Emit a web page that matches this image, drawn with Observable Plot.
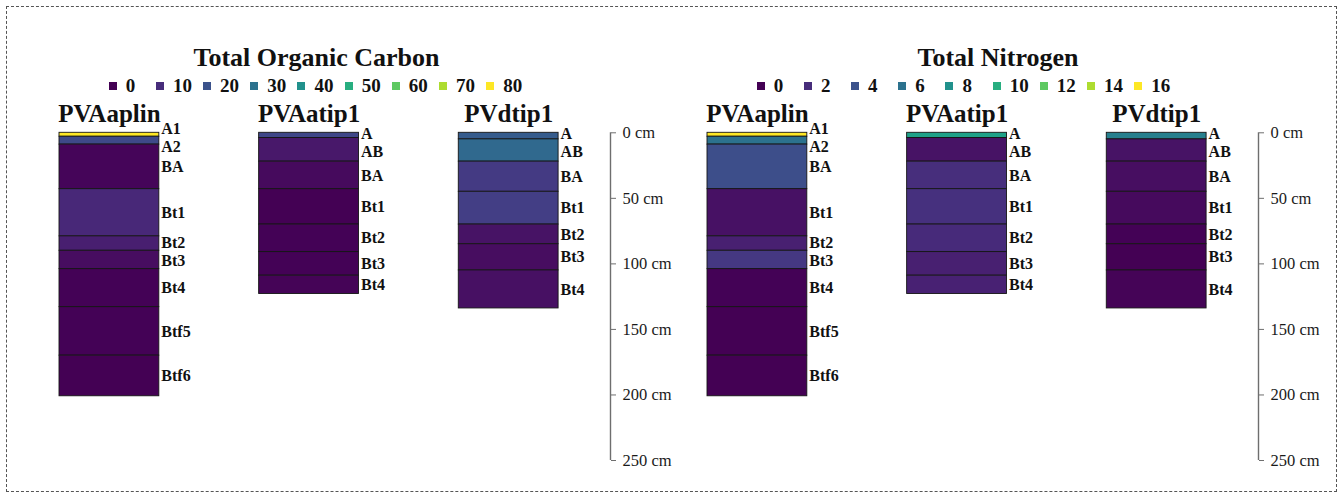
<!DOCTYPE html>
<html>
<head>
<meta charset="utf-8">
<script src="https://cdn.jsdelivr.net/npm/d3@7"></script>
<script src="https://cdn.jsdelivr.net/npm/@observablehq/plot@0.6"></script>
<style>
  body { margin: 0; background: #fff; font-family: "Liberation Serif", "DejaVu Serif", serif; color: #111; }
  #fig { position: relative; width: 1341px; height: 498px; overflow: hidden; }
  .border { position: absolute; left: 6px; top: 6px; width: 1331px; height: 486px; box-sizing: border-box; border: 1px dashed #555; }
  .title { position: absolute; top: 45px; font-size: 26px; line-height: 26px; font-weight: bold; text-align: center; }
  .legend { position: absolute; top: 75.5px; display: flex; }
  .legend .item { width: 47.2px; height: 20px; display: flex; align-items: center; font-size: 19px; line-height: 20px; font-weight: bold; white-space: nowrap; }
  .legend .sw { width: 8px; height: 8px; margin-right: 9px; flex: none; }
  .panel { position: absolute; top: 100px; }
</style>
</head>
<body>
<div id="fig">
  <div class="border"></div>
</div>
<script>
// Soil profiles and their horizons (depth boundaries in cm)
const profileNames = ["PVAaplin", "PVAatip1", "PVdtip1"];

const aplinHorizons = ["A1", "A2", "BA", "Bt1", "Bt2", "Bt3", "Bt4", "Btf5", "Btf6"];
const aplinDepths = [0, 3, 9, 43, 79, 90, 104, 133, 170, 201];
const aplinTOC = [80, 18, 1, 9, 6.6, 2.8, 0.6, 0.6, 0.2];
const aplinTN = [16, 6, 3.8, 0.7, 1.4, 2.6, 0.1, 0.05, 0.05];

const atipHorizons = ["A", "AB", "BA", "Bt1", "Bt2", "Bt3", "Bt4"];
const atipDepths = [0, 4, 22, 43, 70, 91, 109, 123];
const atipTOC = [17, 5, 2, 0.3, 0.6, 0.4, 0.8];
const atipTN = [9.1, 0.8, 2.1, 2.2, 1.9, 1.4, 1.45];

const dtipHorizons = ["A", "AB", "BA", "Bt1", "Bt2", "Bt3", "Bt4"];
const dtipDepths = [0, 5, 22, 45, 70, 85, 105, 134];
const dtipTOC = [23, 27, 13.5, 14.5, 4, 2.8, 3.2];
const dtipTN = [6.9, 0.8, 0.6, 0.4, 0.1, 0, 0.15];

// Colour scale limits and legend ticks
const tocDomain = [0, 80];
const tnDomain = [0, 16];
const tocLegend = [0, 10, 20, 30, 40, 50, 60, 70, 80];
const tnLegend = [0, 2, 4, 6, 8, 10, 12, 14, 16];

// Depth axis
const depthDomain = [0, 250];
const depthTicks = [0, 50, 100, 150, 200, 250];

// Layout: each profile is one unit wide, separated by one unit; axis sits past the last one
const axisPos = 5.52;
const plotWidthPx = 551;
const plotHeightPx = 327.7;
const labelGapPx = 18;

const horizonSets = [
  {horizons: aplinHorizons, depths: aplinDepths, toc: aplinTOC, tn: aplinTN},
  {horizons: atipHorizons, depths: atipDepths, toc: atipTOC, tn: atipTN},
  {horizons: dtipHorizons, depths: dtipDepths, toc: dtipTOC, tn: dtipTN}
];

// push apart label positions that would overlap (in cm)
function spread(mids, sep) {
  const pos = mids.slice();
  for (let iter = 0; iter < 200; iter++) {
    let moved = false;
    for (let i = 1; i < pos.length; i++) {
      const gap = pos[i] - pos[i - 1];
      if (gap < sep - 1e-6) {
        const d = (sep - gap) / 2;
        pos[i - 1] -= d;
        pos[i] += d;
        moved = true;
      }
    }
    if (!moved) break;
  }
  return pos;
}

function buildRows(key) {
  const sep = labelGapPx / (plotHeightPx / (depthDomain[1] - depthDomain[0]));
  const rows = [];
  horizonSets.forEach((p, i) => {
    const mids = p.horizons.map((_, j) => (p.depths[j] + p.depths[j + 1]) / 2);
    const labelDepths = spread(mids, sep);
    p.horizons.forEach((h, j) => {
      rows.push({
        profile: profileNames[i],
        x1: 2 * i,
        x2: 2 * i + 1,
        top: p.depths[j],
        bottom: p.depths[j + 1],
        horizon: h,
        labelDepth: labelDepths[j],
        value: p[key][j]
      });
    });
  });
  return rows;
}

function panel(key, domain, marginLeft, marginRight) {
  const rows = buildRows(key);
  const names = profileNames.map((name, i) => ({name, x: 2 * i + 0.5}));
  return Plot.plot({
    width: marginLeft + plotWidthPx + marginRight,
    height: 385,
    marginLeft,
    marginRight,
    marginTop: 32.3,
    marginBottom: 25,
    style: {fontFamily: "'Liberation Serif', serif", color: "#1a1a1a", background: "transparent", overflow: "visible"},
    x: {domain: [0, axisPos], axis: null},
    y: {domain: depthDomain, reverse: true, axis: null},
    color: {type: "linear", scheme: "viridis", domain},
    marks: [
      Plot.rect(rows, {x1: "x1", x2: "x2", y1: "top", y2: "bottom", fill: "value", stroke: "#161616", strokeWidth: 0.9}),
      Plot.text(rows, {x: "x2", y: "labelDepth", text: "horizon", textAnchor: "start", dx: 2, fontWeight: "bold", fontSize: 16, fill: "#111"}),
      Plot.text(names, {x: "x", y: () => depthDomain[0], text: "name", lineAnchor: "bottom", dy: -10.6, fontWeight: "bold", fontSize: 25, fill: "#111"}),
      Plot.ruleX([axisPos], {y1: depthDomain[0], y2: depthDomain[1], stroke: "#6e6e6e", strokeWidth: 1.4}),
      Plot.axisY({anchor: "right", ticks: depthTicks, tickFormat: d => `${d} cm`, tickSize: 5, tickPadding: 7, fontSize: 16.5, stroke: "#6e6e6e", label: null})
    ]
  });
}

function legend(values, domain, left) {
  const scale = Plot.scale({color: {type: "linear", scheme: "viridis", domain}});
  const div = document.createElement("div");
  div.className = "legend";
  div.style.left = left + "px";
  values.forEach(v => {
    const item = document.createElement("div");
    item.className = "item";
    const sw = document.createElement("span");
    sw.className = "sw";
    sw.style.background = scale.apply(v);
    item.appendChild(sw);
    item.appendChild(document.createTextNode(String(v)));
    div.appendChild(item);
  });
  return div;
}

function title(text, left, width) {
  const div = document.createElement("div");
  div.className = "title";
  div.style.left = left + "px";
  div.style.width = width + "px";
  div.textContent = text;
  return div;
}

const fig = document.getElementById("fig");

fig.appendChild(title("Total Organic Carbon", 0, 633));
fig.appendChild(legend(tocLegend, tocDomain, 108.7));
const left = panel("toc", tocDomain, 52, 70);
left.classList.add("panel");
left.style.left = "7px";
fig.appendChild(left);

fig.appendChild(title("Total Nitrogen", 698, 600));
fig.appendChild(legend(tnLegend, tnDomain, 756.7));
const right = panel("tn", tnDomain, 27, 77);
right.classList.add("panel");
right.style.left = "680px";
fig.appendChild(right);
</script>
</body>
</html>
